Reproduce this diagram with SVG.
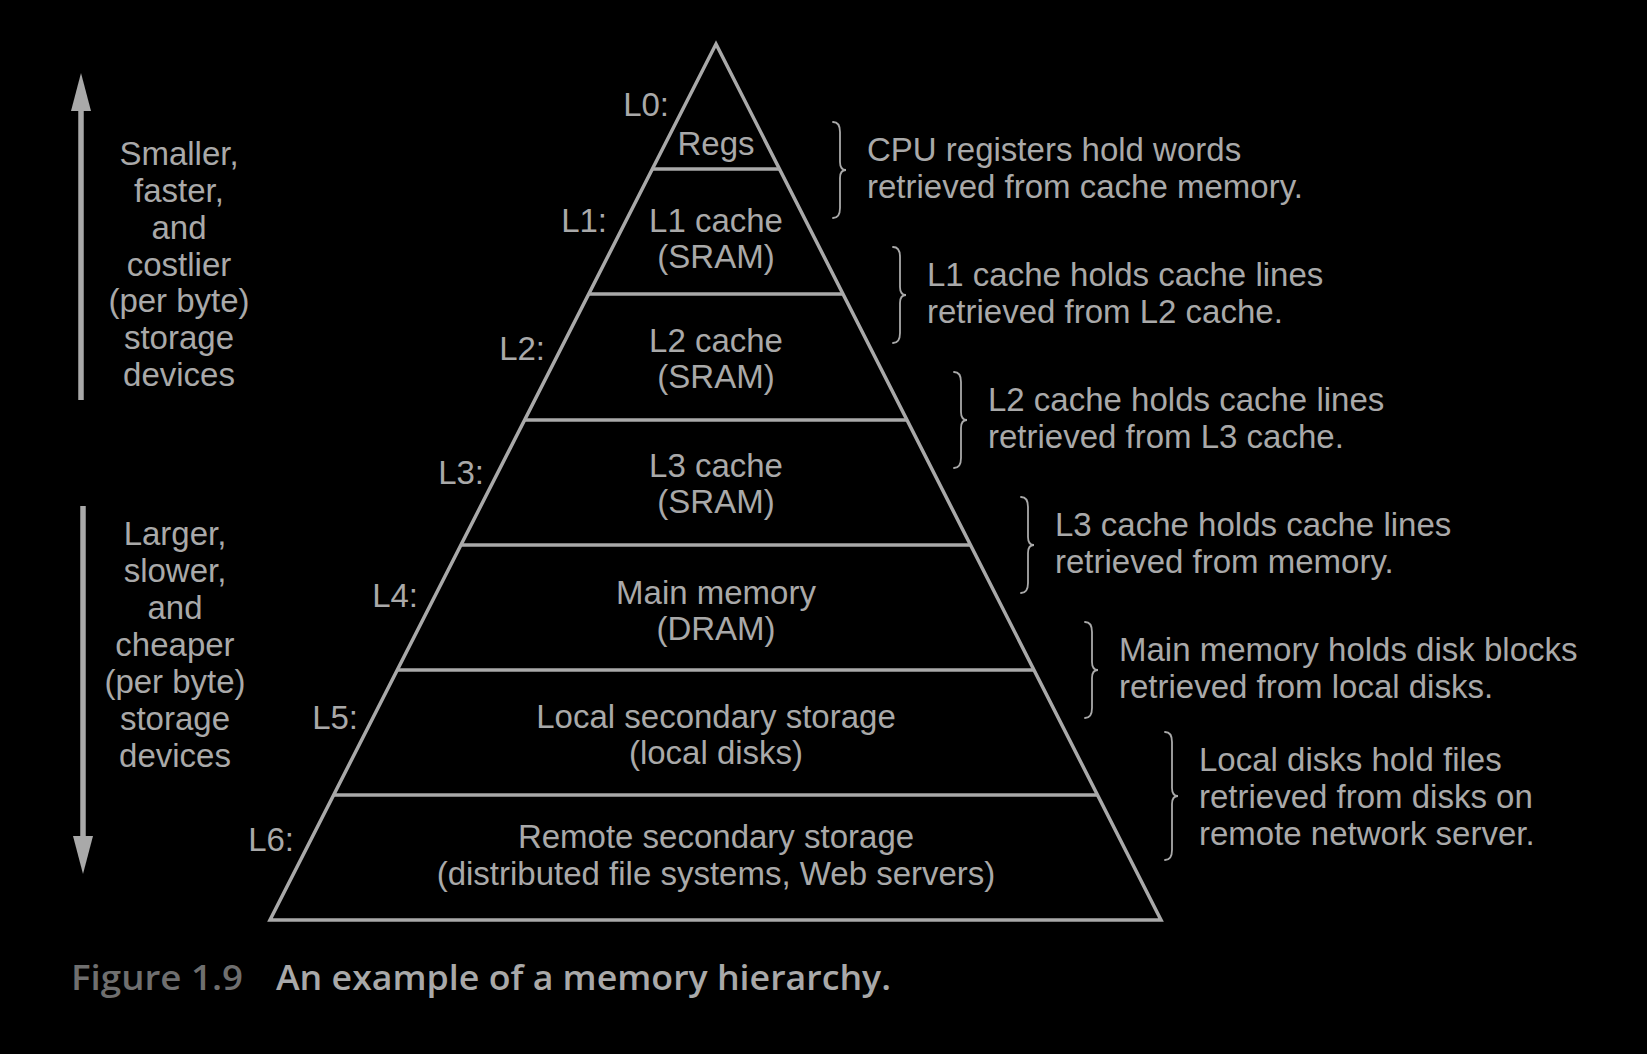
<svg xmlns="http://www.w3.org/2000/svg" width="1647" height="1054" viewBox="0 0 1647 1054">
<style>
  text { font-family: "Liberation Sans", Arial, sans-serif; font-size: 33px; fill: #a9a9a9; }
  .c { text-anchor: middle; }
  .r { text-anchor: end; }
  .edge { stroke: #a9a9a9; stroke-width: 3.5; fill: none; }
  .brace { stroke: #a9a9a9; stroke-width: 1.8; fill: none; stroke-linecap: round; }
  .shaft { stroke: #a9a9a9; stroke-width: 5.5; fill: none; }
  .cap1 { font-family: "Open Sans", "Liberation Sans", sans-serif; font-weight: 600; font-size: 35px; fill: #6f6f6f; }
  .cap2 { font-family: "Open Sans", "Liberation Sans", sans-serif; font-weight: 600; font-size: 35px; fill: #a9a9a9; }
</style>
<defs>
  <marker id="head" markerUnits="userSpaceOnUse" markerWidth="38" markerHeight="20" refX="0" refY="10" orient="auto">
    <path d="M0,0 L38,10 L0,20 z" fill="#a9a9a9"/>
  </marker>
</defs>
<rect width="1647" height="1054" fill="#000"/>

<g id="pyramid">
  <polygon class="edge" points="716,44 1161,920 270,920" stroke-linejoin="miter"/>
  <line class="edge" x1="653" y1="169" x2="780" y2="169"/>
  <line class="edge" x1="589" y1="294" x2="843" y2="294"/>
  <line class="edge" x1="525" y1="420" x2="907" y2="420"/>
  <line class="edge" x1="462" y1="545" x2="970" y2="545"/>
  <line class="edge" x1="398" y1="670" x2="1034" y2="670"/>
  <line class="edge" x1="334" y1="795" x2="1098" y2="795"/>
</g>

<g id="L0">
  <text class="r" x="669" y="116">L0:</text>
  <text class="c" x="716" y="155">Regs</text>
</g>
<g id="L1">
  <text class="r" x="607" y="232">L1:</text>
  <text class="c" x="716" y="232">L1 cache</text>
  <text class="c" x="716" y="268">(SRAM)</text>
</g>
<g id="L2">
  <text class="r" x="545" y="360">L2:</text>
  <text class="c" x="716" y="352">L2 cache</text>
  <text class="c" x="716" y="388">(SRAM)</text>
</g>
<g id="L3">
  <text class="r" x="484" y="484">L3:</text>
  <text class="c" x="716" y="477">L3 cache</text>
  <text class="c" x="716" y="513">(SRAM)</text>
</g>
<g id="L4">
  <text class="r" x="418" y="607">L4:</text>
  <text class="c" x="716" y="604">Main memory</text>
  <text class="c" x="716" y="640">(DRAM)</text>
</g>
<g id="L5">
  <text class="r" x="358" y="729">L5:</text>
  <text class="c" x="716" y="728">Local secondary storage</text>
  <text class="c" x="716" y="764">(local disks)</text>
</g>
<g id="L6">
  <text class="r" x="294" y="851">L6:</text>
  <text class="c" x="716" y="848">Remote secondary storage</text>
  <text class="c" x="716" y="885">(distributed file systems, Web servers)</text>
</g>

<g id="note0">
  <path class="brace" d="M833,122 C838,122 840,125 840,132 L840,162 C840,167 842,170 846,170 C842,170 840,173 840,178 L840,208 C840,215 838,218 833,218"/>
  <text x="867" y="161">CPU registers hold words</text>
  <text x="867" y="198">retrieved from cache memory.</text>
</g>
<g id="note1">
  <path class="brace" d="M893,247 C898,247 900,250 900,257 L900,287 C900,292 902,295 906,295 C902,295 900,298 900,303 L900,333 C900,340 898,343 893,343"/>
  <text x="927" y="286">L1 cache holds cache lines</text>
  <text x="927" y="323">retrieved from L2 cache.</text>
</g>
<g id="note2">
  <path class="brace" d="M954,372 C959,372 961,375 961,382 L961,412 C961,417 963,420 967,420 C963,420 961,423 961,428 L961,458 C961,465 959,468 954,468"/>
  <text x="988" y="411">L2 cache holds cache lines</text>
  <text x="988" y="448">retrieved from L3 cache.</text>
</g>
<g id="note3">
  <path class="brace" d="M1021,497 C1026,497 1028,500 1028,507 L1028,537 C1028,542 1030,545 1034,545 C1030,545 1028,548 1028,553 L1028,583 C1028,590 1026,593 1021,593"/>
  <text x="1055" y="536">L3 cache holds cache lines</text>
  <text x="1055" y="573">retrieved from memory.</text>
</g>
<g id="note4">
  <path class="brace" d="M1085,622 C1090,622 1092,625 1092,632 L1092,662 C1092,667 1094,670 1098,670 C1094,670 1092,673 1092,678 L1092,708 C1092,715 1090,718 1085,718"/>
  <text x="1119" y="661">Main memory holds disk blocks</text>
  <text x="1119" y="698">retrieved from local disks.</text>
</g>
<g id="note5">
  <path class="brace" d="M1165,732 C1170,732 1172,735 1172,742 L1172,788 C1172,793 1174,796 1178,796 C1174,796 1172,799 1172,804 L1172,850 C1172,857 1170,860 1165,860"/>
  <text x="1199" y="771">Local disks hold files</text>
  <text x="1199" y="808">retrieved from disks on</text>
  <text x="1199" y="845">remote network server.</text>
</g>

<g id="connectors">
  <line class="shaft" x1="81" y1="400" x2="81" y2="111" marker-end="url(#head)"/>
  <line class="shaft" x1="83" y1="506" x2="83" y2="836" marker-end="url(#head)"/>
</g>

<g id="up-label">
  <text class="c" x="179" y="165">Smaller,</text>
  <text class="c" x="179" y="202">faster,</text>
  <text class="c" x="179" y="239">and</text>
  <text class="c" x="179" y="276">costlier</text>
  <text class="c" x="179" y="312">(per byte)</text>
  <text class="c" x="179" y="349">storage</text>
  <text class="c" x="179" y="386">devices</text>
</g>
<g id="down-label">
  <text class="c" x="175" y="545">Larger,</text>
  <text class="c" x="175" y="582">slower,</text>
  <text class="c" x="175" y="619">and</text>
  <text class="c" x="175" y="656">cheaper</text>
  <text class="c" x="175" y="693">(per byte)</text>
  <text class="c" x="175" y="730">storage</text>
  <text class="c" x="175" y="767">devices</text>
</g>

<g id="caption">
  <text class="cap1" x="71" y="990" textLength="172" lengthAdjust="spacingAndGlyphs">Figure 1.9</text>
  <text class="cap2" x="276" y="990" textLength="615" lengthAdjust="spacingAndGlyphs">An example of a memory hierarchy.</text>
</g>
</svg>
